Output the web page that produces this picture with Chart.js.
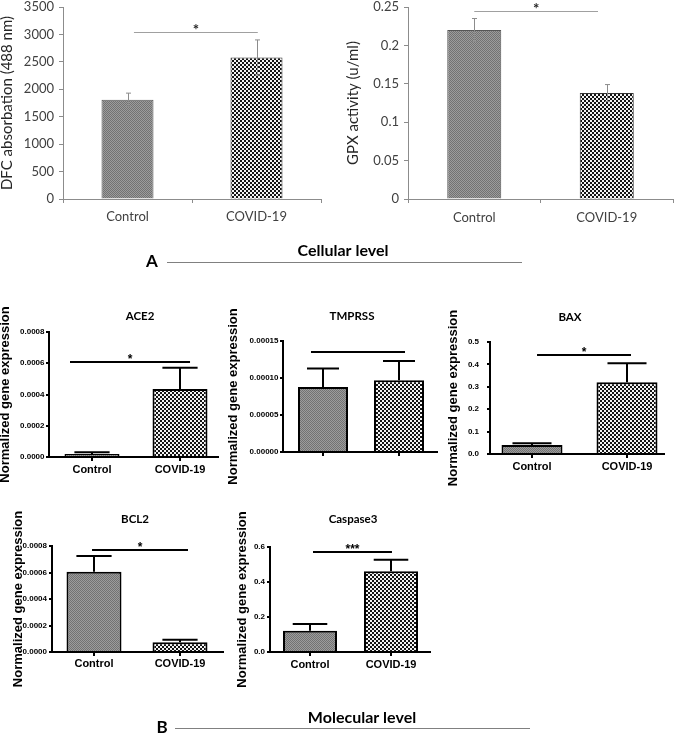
<!DOCTYPE html>
<html><head><meta charset="utf-8">
<script src="https://cdn.jsdelivr.net/npm/chart.js@4.4.1/dist/chart.umd.min.js"></script>
<style>
html,body{margin:0;padding:0;background:#fff;}
#wrap{position:relative;width:678px;height:734px;overflow:hidden;background:#fff;}
canvas{position:absolute;left:0;top:0;}
</style></head><body><div id="wrap">
<canvas id="c0" width="678" height="734"></canvas>
<canvas id="c1" width="678" height="734"></canvas>
<canvas id="c2" width="678" height="734"></canvas>
<canvas id="c3" width="678" height="734"></canvas>
<canvas id="c4" width="678" height="734"></canvas>
<canvas id="c5" width="678" height="734"></canvas>
<canvas id="c6" width="678" height="734"></canvas>
</div>
<script>
// ---------------- data ----------------
const groups = ['Control', 'COVID-19'];
const sectionMarks = ['A', 'B'];
const sectionTitles = ['Cellular level', 'Molecular level'];

// A - cellular level
const dfcMeans = [1810, 2580];
const dfcErr = [120, 320];
const dfcTicks = [0, 500, 1000, 1500, 2000, 2500, 3000, 3500];
const dfcTickLabels = ['0', '500', '1000', '1500', '2000', '2500', '3000', '3500'];
const dfcSig = [0.05, 1.01, 3040];

const gpxMeans = [0.22, 0.138];
const gpxErr = [0.015, 0.011];
const gpxTicks = [0, 0.05, 0.1, 0.15, 0.2, 0.25];
const gpxTickLabels = ['0', '0.05', '0.1', '0.15', '0.2', '0.25'];
const gpxSig = [0, 0.934, 0.245];

// B - molecular level
const ace2Means = [0.00002, 0.000435];
const ace2Err = [0.00001, 0.000137];
const ace2Ticks = [0, 0.0002, 0.0004, 0.0006, 0.0008];
const ace2TickLabels = ['0.0000', '0.0002', '0.0004', '0.0006', '0.0008'];
const ace2Sig = [-0.25, 1.114, 0.00061];

const tmprssMeans = [0.000088, 0.000097];
const tmprssErr = [0.000025, 0.000026];
const tmprssTicks = [0, 0.00005, 0.0001, 0.00015];
const tmprssTickLabels = ['0.00000', '0.00005', '0.00010', '0.00015'];
const tmprssSig = [-0.158, 1.079, 0.000135];

const baxMeans = [0.040, 0.32];
const baxErr = [0.008, 0.085];
const baxTicks = [0, 0.1, 0.2, 0.3, 0.4, 0.5];
const baxTickLabels = ['0.0', '0.1', '0.2', '0.3', '0.4', '0.5'];
const baxSig = [0.053, 1.042, 0.442];

const bcl2Means = [0.000606, 0.000073];
const bcl2Err = [0.000119, 0.00002];
const bcl2Ticks = [0, 0.0002, 0.0004, 0.0006, 0.0008];
const bcl2TickLabels = ['0.0000', '0.0002', '0.0004', '0.0006', '0.0008'];
const bcl2Sig = [-0.023, 1.093, 0.00077];

const casp3Means = [0.122, 0.462];
const casp3Err = [0.038, 0.065];
const casp3Ticks = [0, 0.2, 0.4, 0.6];
const casp3TickLabels = ['0.0', '0.2', '0.4', '0.6'];
const casp3Sig = [0.037, 1.012, 0.57];

// ---------------- panels (data + layout) ----------------
const panels = [
  {canvas:'c0', style:'A', means:dfcMeans, err:dfcErr, ticks:dfcTicks, tickLabels:dfcTickLabels, sig:dfcSig, sigText:'*',
   yTitle:'DFC absorbation (488 nm)', box:{l:63, r:321, t:7, b:199}, barW:52, titleX:7.5, yTickPad:5, xTickPad:6.5},
  {canvas:'c1', style:'A', means:gpxMeans, err:gpxErr, ticks:gpxTicks, tickLabels:gpxTickLabels, sig:gpxSig, sigText:'*',
   yTitle:'GPX activity (u/ml)', box:{l:408, r:673, t:7, b:199}, barW:54, titleX:353, yTickPad:5, xTickPad:7},
  {canvas:'c2', style:'B', name:'ACE2', means:ace2Means, err:ace2Err, ticks:ace2Ticks, tickLabels:ace2TickLabels, sig:ace2Sig, sigText:'*',
   yTitle:'Normalized gene expression', box:{l:49, r:218, t:332, b:457}, c0:92, c1:180, barW:55, titleX:5, yTickPad:1.5, xTickPad:2.4, showX:true, titlePos:[140, 320]},
  {canvas:'c3', style:'B', name:'TMPRSS', means:tmprssMeans, err:tmprssErr, ticks:tmprssTicks, tickLabels:tmprssTickLabels, sig:tmprssSig, sigText:'',
   yTitle:'Normalized gene expression', box:{l:283, r:437, t:341, b:452}, c0:323, c1:399, barW:50, titleX:233, yTickPad:1.5, xTickPad:2.4, showX:false, titlePos:[352, 320]},
  {canvas:'c4', style:'B', name:'BAX', means:baxMeans, err:baxErr, ticks:baxTicks, tickLabels:baxTickLabels, sig:baxSig, sigText:'*',
   yTitle:'Normalized gene expression', box:{l:490, r:664, t:342, b:454}, c0:532, c1:627, barW:61, titleX:453, yTickPad:8, xTickPad:2.1, showX:true, titlePos:[570, 321]},
  {canvas:'c5', style:'B', name:'BCL2', means:bcl2Means, err:bcl2Err, ticks:bcl2Ticks, tickLabels:bcl2TickLabels, sig:bcl2Sig, sigText:'*',
   yTitle:'Normalized gene expression', box:{l:52, r:223, t:546, b:652}, c0:94, c1:180, barW:55, titleX:18.5, yTickPad:2, xTickPad:1.6, showX:true, titlePos:[135, 523]},
  {canvas:'c6', style:'B', name:'Caspase3', means:casp3Means, err:casp3Err, ticks:casp3Ticks, tickLabels:casp3TickLabels, sig:casp3Sig, sigText:'***',
   yTitle:'Normalized gene expression', box:{l:270, r:430, t:547, b:652}, c0:310, c1:391, barW:54, titleX:242.5, yTickPad:2, xTickPad:2.4, showX:true, titlePos:[353, 523]}
];

// ---------------- patterns ----------------
function makePattern(cell, bg, fg) {
  const t = document.createElement('canvas');
  t.width = t.height = cell * 2;
  const c = t.getContext('2d');
  c.fillStyle = bg; c.fillRect(0, 0, cell * 2, cell * 2);
  c.fillStyle = fg; c.fillRect(0, 0, cell, cell); c.fillRect(cell, cell, cell, cell);
  return c.createPattern(t, 'repeat');
}
const ctrlPattern = makePattern(1, '#9c9c9c', '#727272');
const covidPattern = makePattern(2, '#f4f4f4', '#141414');

const W = 678, H = 734, XH = 40;
const FA = 'Lato, "Open Sans", sans-serif';
const FB = '"Liberation Sans", Arial, sans-serif';

function zeroPad(s) { s.paddingLeft = 0; s.paddingRight = 0; s.paddingTop = 0; s.paddingBottom = 0; }

function annotPlugin(p) {
  const isA = p.style === 'A';
  return {
    id: 'annot_' + p.canvas,
    afterDatasetsDraw(chart) {
      const c = chart.ctx, xs = chart.scales.x, ys = chart.scales.y;
      const meta = chart.getDatasetMeta(0);
      c.save();
      // error bars
      c.strokeStyle = isA ? '#8c8c8c' : '#000';
      c.lineWidth = isA ? 1 : 2;
      meta.data.forEach((bar, i) => {
        const v = p.means[i], e = p.err[i];
        const yTop = ys.getPixelForValue(v + e);
        const yLow = isA ? ys.getPixelForValue(v - e) : ys.getPixelForValue(v);
        const cw = isA ? 2.5 : bar.width * 0.32;
        const x = Math.round(bar.x) + (isA ? 0.5 : 0);
        c.beginPath();
        c.moveTo(x, yLow); c.lineTo(x, yTop);
        c.moveTo(x - cw, yTop); c.lineTo(x + cw, yTop);
        if (isA) { c.moveTo(x - cw, yLow); c.lineTo(x + cw, yLow); }
        c.stroke();
      });
      // significance line
      const x0 = xs.getPixelForValue(p.sig[0]), x1 = xs.getPixelForValue(p.sig[1]);
      const ySig = ys.getPixelForValue(p.sig[2]);
      c.strokeStyle = isA ? '#a0a0a0' : '#000';
      c.lineWidth = isA ? 1 : 2;
      c.beginPath(); c.moveTo(x0, Math.round(ySig) + (isA ? 0.5 : 0)); c.lineTo(x1, Math.round(ySig) + (isA ? 0.5 : 0)); c.stroke();
      if (p.sigText) {
        c.fillStyle = isA ? '#262626' : '#000';
        c.textAlign = 'center'; c.textBaseline = 'alphabetic';
        c.font = isA ? ('bold 15px ' + FA) : ('bold 12px ' + FB);
        c.fillText(p.sigText, (x0 + x1) / 2, ySig + (isA ? 3 : 1));
      }
      // panel title
      if (p.name) {
        c.fillStyle = '#000';
        c.font = 'bold 11.5px ' + FA;
        c.textAlign = 'center'; c.textBaseline = 'alphabetic';
        c.fillText(p.name, p.titlePos[0], p.titlePos[1]);
      }
      c.restore();
    }
  };
}

const figureLabels = {
  id: 'figureLabels',
  afterDraw(chart) {
    const c = chart.ctx;
    c.save();
    c.fillStyle = '#000';
    c.textAlign = 'center'; c.textBaseline = 'alphabetic';
    c.font = 'bold 17px ' + FA;
    c.fillText(sectionMarks[0], 152, 267);
    c.fillText(sectionMarks[1], 162, 733);
    c.font = 'bold 16px ' + FA;
    c.fillText(sectionTitles[0], 343, 256);
    c.fillText(sectionTitles[1], 362, 723);
    c.strokeStyle = '#808080'; c.lineWidth = 1;
    c.beginPath();
    c.moveTo(167, 262.5); c.lineTo(522, 262.5);
    c.moveTo(175, 728.5); c.lineTo(530, 728.5);
    c.stroke();
    c.restore();
  }
};

function build(p, extraPlugins) {
  const isA = p.style === 'A';
  const yTitleSize = isA ? 15 : 13;
  const S = Math.max(0, Math.floor(p.titleX - yTitleSize / 2));
  const titlePadTop = p.titleX - yTitleSize / 2 - S;
  const yW = p.box.l - S;
  const axisColor = isA ? '#8c8c8c' : '#000';
  let xScale, dataArr, barPct;
  if (isA) {
    barPct = p.barW / ((p.box.r - p.box.l) / 2);
    dataArr = p.means.slice();
    xScale = {
      type: 'category', offset: true,
      grid: {display: true, drawOnChartArea: false, drawTicks: true, tickLength: 4, color: axisColor, lineWidth: 1, offset: true},
      border: {display: true, color: axisColor, width: 1},
      ticks: {font: {family: FA, size: 13}, color: '#404040', padding: p.xTickPad, maxRotation: 0, autoSkip: false},
      afterFit(s) { s.height = XH; zeroPad(s); }
    };
  } else {
    const d = p.c1 - p.c0;
    barPct = p.barW / d;
    dataArr = p.means.map((v, i) => ({x: i, y: v}));
    xScale = {
      type: 'linear', bounds: 'data', offset: false,
      min: -(p.c0 - p.box.l) / d, max: 1 + (p.box.r - p.c1) / d,
      afterBuildTicks(s) { s.ticks = groups.map((g, i) => ({value: i})); },
      grid: {display: true, drawOnChartArea: false, drawTicks: true, tickLength: 4, color: '#000', lineWidth: 2, offset: false},
      border: {display: true, color: '#000', width: 2},
      ticks: {display: p.showX, callback: (v) => groups[v], font: {family: FB, size: 11, weight: 'bold'}, color: '#000', padding: p.xTickPad, maxRotation: 0, autoSkip: false},
      afterFit(s) { s.height = XH; zeroPad(s); }
    };
  }
  const yScale = {
    type: 'linear', bounds: 'data',
    min: 0, max: p.ticks[p.ticks.length - 1],
    afterBuildTicks(s) { s.ticks = p.ticks.map(v => ({value: v})); },
    grid: {display: true, drawOnChartArea: false, drawTicks: true, tickLength: isA ? 4 : 3, color: axisColor, lineWidth: isA ? 1 : 2},
    border: {display: true, color: axisColor, width: isA ? 1 : 2},
    ticks: {callback: (v, i) => p.tickLabels[i], autoSkip: false, padding: p.yTickPad,
      font: isA ? {family: FA, size: 13, lineHeight: 1} : {family: FB, size: 8, weight: 'bold', lineHeight: 1},
      color: isA ? '#404040' : '#000'},
    title: {display: true, text: p.yTitle, color: isA ? '#262626' : '#000',
      font: isA ? {family: FA, size: yTitleSize, lineHeight: 1} : {family: FB, size: yTitleSize, weight: 'bold', lineHeight: 1},
      padding: {top: titlePadTop, bottom: 0}},
    afterFit(s) { s.width = yW; zeroPad(s); }
  };
  return new Chart(document.getElementById(p.canvas), {
    type: 'bar',
    data: {
      labels: isA ? groups : undefined,
      datasets: [{
        data: dataArr,
        backgroundColor: [ctrlPattern, covidPattern],
        borderColor: isA ? ['#555555', '#333333'] : '#000',
        borderWidth: isA ? 1 : 2,
        borderSkipped: 'start',
        barPercentage: barPct,
        categoryPercentage: 1
      }]
    },
    options: {
      responsive: false, animation: false, devicePixelRatio: 1,
      layout: {autoPadding: false, padding: {left: S, top: p.box.t, right: W - p.box.r, bottom: H - p.box.b - XH}},
      plugins: {legend: {display: false}, tooltip: {enabled: false}, title: {display: false}},
      scales: {x: xScale, y: yScale}
    },
    plugins: [annotPlugin(p)].concat(extraPlugins || [])
  });
}

panels.forEach((p, i) => build(p, i === panels.length - 1 ? [figureLabels] : []));
</script>
</body></html>
